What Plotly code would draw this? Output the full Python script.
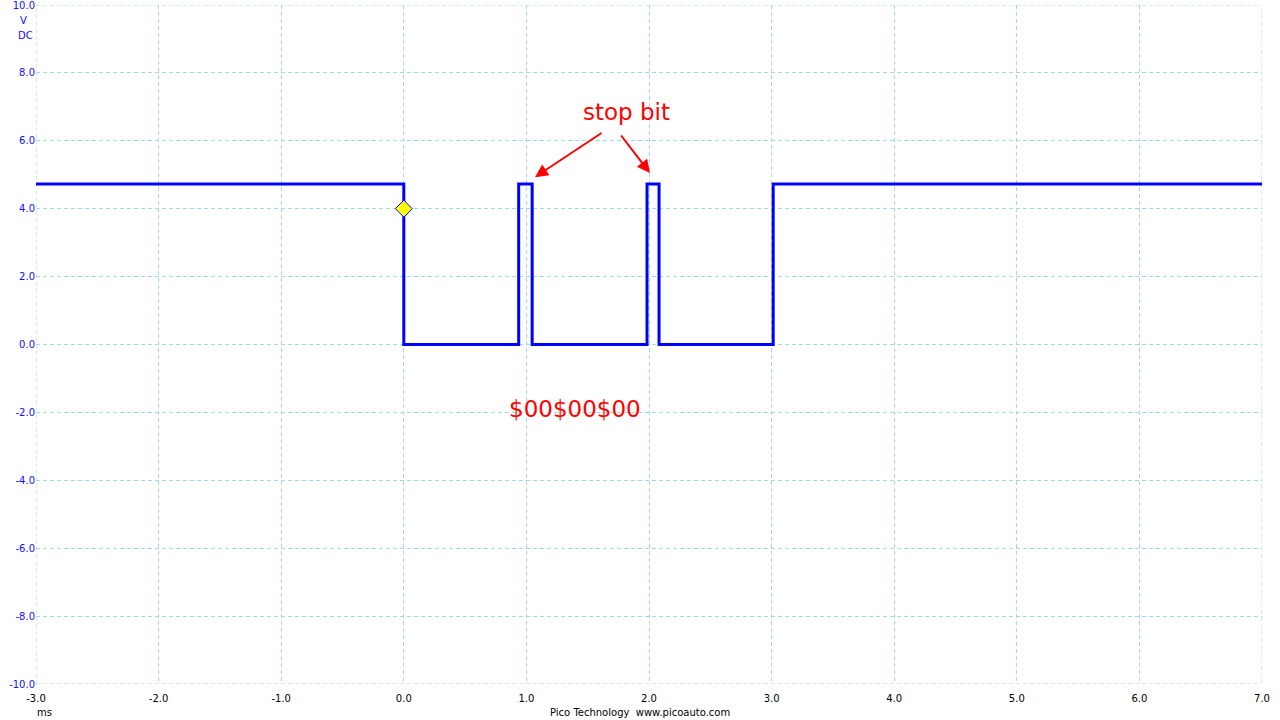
import plotly.graph_objects as go

# Edge times (ms) and the signal level (V) held from each time onward
edge_times = [-3.0, 0.0, 0.937, 1.047, 1.984, 2.082, 3.013, 7.0]
edge_levels = [4.73, 0.0, 4.73, 0.0, 4.73, 0.0, 4.73, 4.73]

trigger_time = [0.0]
trigger_level = [4.0]

x_ticks = [-3.0, -2.0, -1.0, 0.0, 1.0, 2.0, 3.0, 4.0, 5.0, 6.0, 7.0]
y_ticks = [-10.0, -8.0, -6.0, -4.0, -2.0, 0.0, 2.0, 4.0, 6.0, 8.0, 10.0]

grid_col = "#a6d8e4"
font_fam = "DejaVu Sans"
dash = "4px,3px"

fig = go.Figure()
fig.add_trace(go.Scatter(
    x=edge_times, y=edge_levels, mode="lines", line_shape="hv",
    line=dict(color="#0000ff", width=3), hoverinfo="skip", showlegend=False))
fig.add_trace(go.Scatter(
    x=trigger_time, y=trigger_level, mode="markers",
    marker=dict(symbol="diamond", size=13, color="#ffff00",
                line=dict(color="#0000ff", width=1)),
    showlegend=False))

fig.update_layout(
    width=1280, height=720,
    margin=dict(l=36, r=18, t=5, b=36, autoexpand=False),
    paper_bgcolor="white", plot_bgcolor="white",
    font=dict(family=font_fam, size=10, color="black"),
    xaxis=dict(range=[-3.0, 7.0], tickvals=x_ticks,
               ticktext=[f"{v:.1f}" for v in x_ticks],
               showgrid=True, gridcolor=grid_col, griddash=dash, gridwidth=1,
               zeroline=False, showline=False, ticks="", ticklen=0,
               ticklabelstandoff=7, ticklabeloverflow="allow", automargin=False,
               tickfont=dict(size=10, color="black")),
    yaxis=dict(range=[-10.0, 10.0], tickvals=y_ticks,
               ticktext=[f"{v:.1f}" for v in y_ticks],
               showgrid=True, gridcolor=grid_col, griddash=dash, gridwidth=1,
               zeroline=False, showline=False, ticks="", ticklen=0,
               ticklabeloverflow="allow", automargin=False,
               tickfont=dict(size=10, color="#1010ff")),
)

# Dashed frame lines along the range edges (grid lines at the limits)
for xv in (x_ticks[0], x_ticks[-1]):
    fig.add_shape(type="line", xref="x", yref="y", x0=xv, x1=xv,
                  y0=y_ticks[0], y1=y_ticks[-1],
                  line=dict(color=grid_col, width=1, dash=dash), layer="below")
for yv in (y_ticks[0], y_ticks[-1]):
    fig.add_shape(type="line", xref="x", yref="y", y0=yv, y1=yv,
                  x0=x_ticks[0], x1=x_ticks[-1],
                  line=dict(color=grid_col, width=1, dash=dash), layer="below")

ann = []
# Unit labels
ann.append(dict(text="V", xref="paper", yref="paper", x=-0.0098, y=0.9770,
                xanchor="center", yanchor="middle", showarrow=False,
                font=dict(size=10, color="#1010ff")))
ann.append(dict(text="DC", xref="paper", yref="paper", x=-0.0008, y=0.955,
                xanchor="right", yanchor="middle", showarrow=False,
                font=dict(size=10, color="#1010ff")))
ann.append(dict(text="ms", xref="paper", yref="paper", x=0.0073, y=-0.0427,
                xanchor="center", yanchor="middle", showarrow=False,
                font=dict(size=10, color="black")))
ann.append(dict(text="Pico Technology  www.picoauto.com", xref="paper", yref="paper",
                x=0.4927, y=-0.0427, xanchor="center", yanchor="middle",
                showarrow=False, font=dict(size=10, color="black")))
# Red notes
ann.append(dict(text="stop bit", x=1.82, y=6.85, xref="x", yref="y",
                showarrow=False, font=dict(size=23, color="#ff0000")))
ann.append(dict(text="$00$00$00", x=1.40, y=-1.90, xref="x", yref="y",
                showarrow=False, font=dict(size=23, color="#ff0000")))
ann.append(dict(text="", x=1.07, y=4.93, ax=1.625, ay=6.26, xref="x", yref="y",
                axref="x", ayref="y", showarrow=True, arrowhead=2, arrowsize=1.3,
                arrowwidth=2, arrowcolor="#ff0000"))
ann.append(dict(text="", x=2.008, y=5.05, ax=1.763, ay=6.20, xref="x", yref="y",
                axref="x", ayref="y", showarrow=True, arrowhead=2, arrowsize=1.3,
                arrowwidth=2, arrowcolor="#ff0000"))
fig.update_layout(annotations=ann)

fig.write_html("out.html")
